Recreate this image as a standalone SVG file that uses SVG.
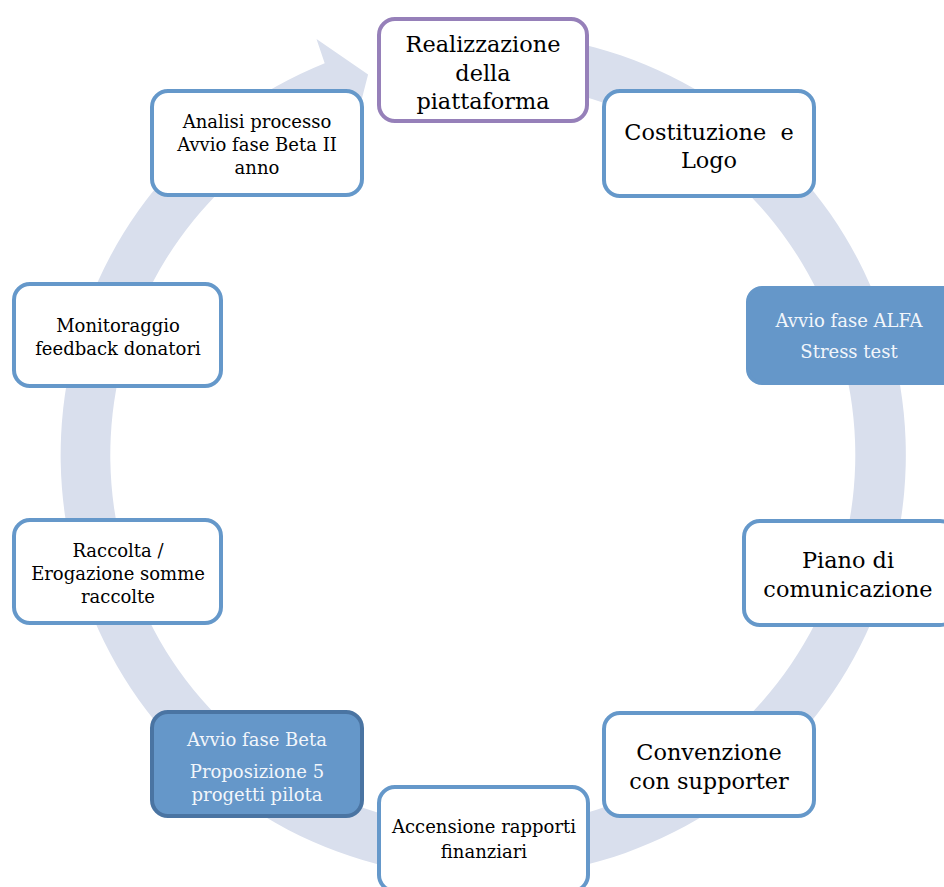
<svg xmlns="http://www.w3.org/2000/svg" width="944" height="887" viewBox="0 0 944 887">
<style>
.node{fill:#ffffff;stroke:#6598ca;stroke-width:4}
.fill{fill:#6597c9;stroke:#6597c9;stroke-width:4}
.fillB{fill:#6597c9;stroke:#4a74a2;stroke-width:4}
.purple{fill:#ffffff;stroke:#9680b9;stroke-width:4}
.t{font-family:"DejaVu Serif","Liberation Serif",serif;text-anchor:middle;fill:#000000}
.big{font-size:22.4px}
.sm{font-size:18px}
.w{fill:#f2f6fb}
</style>
<rect width="944" height="887" fill="#ffffff"/>
<g id="connectors">
<path d="M409.6,38.8 A422.6,422.6 0 1 1 324.7,63.2 L316.5,39 L368.1,74.5 L353.0,133.3 L343.5,109.6 A372.5,372.5 0 1 0 418.3,88.2 Z" fill="#d9dfed"/>
</g>
<g id="n-realizzazione">
<rect class="purple" x="379" y="19" width="208" height="102" rx="16"/>
<text class="t big" x="483" y="52">Realizzazione</text>
<text class="t big" x="483" y="81">della</text>
<text class="t big" x="483" y="109">piattaforma</text>
</g>
<g id="n-costituzione">
<rect class="node" x="604" y="91" width="210" height="105" rx="16"/>
<text class="t big" x="709" y="140" xml:space="preserve">Costituzione  e</text>
<text class="t big" x="709" y="168">Logo</text>
</g>
<g id="n-alfa">
<rect class="fill" x="748" y="288" width="212" height="95" rx="14"/>
<text class="t sm w" x="849" y="327">Avvio fase ALFA</text>
<text class="t sm w" x="849" y="358">Stress test</text>
</g>
<g id="n-piano">
<rect class="node" x="744" y="521" width="212" height="104" rx="16"/>
<text class="t big" x="848" y="568">Piano di</text>
<text class="t big" x="848" y="597">comunicazione</text>
</g>
<g id="n-convenzione">
<rect class="node" x="604" y="713" width="210" height="103" rx="16"/>
<text class="t big" x="709" y="760">Convenzione</text>
<text class="t big" x="709" y="789">con supporter</text>
</g>
<g id="n-accensione">
<rect class="node" x="379" y="787" width="209" height="104" rx="16"/>
<text class="t sm" x="484" y="833">Accensione rapporti</text>
<text class="t sm" x="484" y="858">finanziari</text>
</g>
<g id="n-beta">
<rect class="fillB" x="152" y="712" width="210" height="104" rx="16"/>
<text class="t sm w" x="257" y="746">Avvio fase Beta</text>
<text class="t sm w" x="257" y="778">Proposizione 5</text>
<text class="t sm w" x="257" y="801">progetti pilota</text>
</g>
<g id="n-raccolta">
<rect class="node" x="14" y="520" width="207" height="103" rx="16"/>
<text class="t sm" x="118" y="557">Raccolta /</text>
<text class="t sm" x="118" y="580">Erogazione somme</text>
<text class="t sm" x="118" y="603">raccolte</text>
</g>
<g id="n-monitoraggio">
<rect class="node" x="14" y="284" width="207" height="102" rx="16"/>
<text class="t sm" x="118" y="332">Monitoraggio</text>
<text class="t sm" x="118" y="355">feedback donatori</text>
</g>
<g id="n-analisi">
<rect class="node" x="152" y="91" width="210" height="104" rx="16"/>
<text class="t sm" x="257" y="128">Analisi processo</text>
<text class="t sm" x="257" y="151">Avvio fase Beta II</text>
<text class="t sm" x="257" y="174">anno</text>
</g>
</svg>
